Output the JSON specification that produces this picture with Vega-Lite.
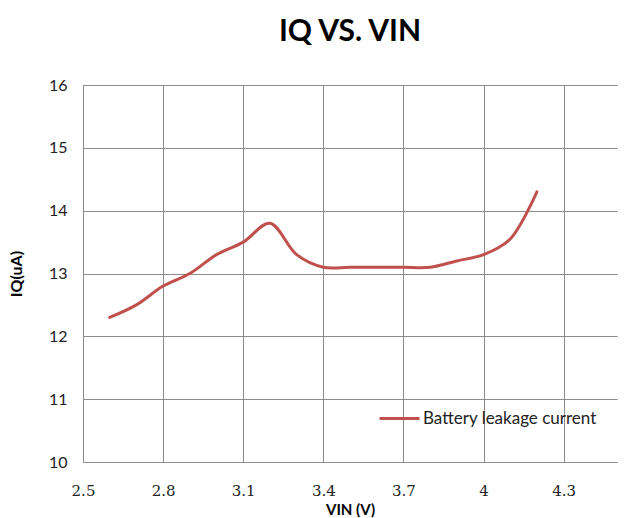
{
  "$schema": "https://vega.github.io/schema/vega-lite/v6.json",
  "autosize": "none",
  "width": 534,
  "height": 377,
  "padding": {"left": 83, "top": 85, "right": 19, "bottom": 56},
  "background": "white",
  "title": {
    "text": "IQ VS. VIN",
    "font": "Lato",
    "fontSize": 30,
    "fontWeight": "bold",
    "color": "#000000",
    "anchor": "middle",
    "offset": 30
  },
  "data": {
    "values": [
      {"vin": 2.6, "iq": 12.3, "series": "Battery leakage current"},
      {"vin": 2.7, "iq": 12.5, "series": "Battery leakage current"},
      {"vin": 2.8, "iq": 12.8, "series": "Battery leakage current"},
      {"vin": 2.9, "iq": 13.0, "series": "Battery leakage current"},
      {"vin": 3.0, "iq": 13.3, "series": "Battery leakage current"},
      {"vin": 3.1, "iq": 13.5, "series": "Battery leakage current"},
      {"vin": 3.2, "iq": 13.8, "series": "Battery leakage current"},
      {"vin": 3.3, "iq": 13.3, "series": "Battery leakage current"},
      {"vin": 3.4, "iq": 13.1, "series": "Battery leakage current"},
      {"vin": 3.5, "iq": 13.1, "series": "Battery leakage current"},
      {"vin": 3.6, "iq": 13.1, "series": "Battery leakage current"},
      {"vin": 3.7, "iq": 13.1, "series": "Battery leakage current"},
      {"vin": 3.8, "iq": 13.1, "series": "Battery leakage current"},
      {"vin": 3.9, "iq": 13.2, "series": "Battery leakage current"},
      {"vin": 4.0, "iq": 13.3, "series": "Battery leakage current"},
      {"vin": 4.1, "iq": 13.55, "series": "Battery leakage current"},
      {"vin": 4.2, "iq": 14.3, "series": "Battery leakage current"}
    ]
  },
  "mark": {"type": "line", "interpolate": "catmull-rom", "strokeWidth": 3, "strokeCap": "round"},
  "encoding": {
    "x": {
      "field": "vin",
      "type": "quantitative",
      "scale": {"domain": [2.5, 4.5], "nice": false, "zero": false},
      "axis": {
        "title": "VIN (V)",
        "titleFont": "Lato",
        "titleFontSize": 15,
        "titleFontWeight": "bold",
        "titleColor": "#000000",
        "titlePadding": 4,
        "values": [2.5, 2.8, 3.1, 3.4, 3.7, 4.0, 4.3],
        "format": "~g",
        "labelFont": "DejaVu Serif",
        "labelFontSize": 15,
        "labelColor": "#222222",
        "labelPadding": 21,
        "labelFlush": false,
        "ticks": false,
        "domainColor": "#8c8c8c",
        "grid": true,
        "gridColor": "#8c8c8c",
        "gridOpacity": 1
      }
    },
    "y": {
      "field": "iq",
      "type": "quantitative",
      "scale": {"domain": [10, 16], "nice": false, "zero": false},
      "axis": {
        "title": "IQ(uA)",
        "titleFont": "Lato",
        "titleFontSize": 16,
        "titleFontWeight": "bold",
        "titleColor": "#000000",
        "titlePadding": 24,
        "values": [10, 11, 12, 13, 14, 15, 16],
        "labelFont": "Lato",
        "labelFontSize": 16,
        "labelColor": "#222222",
        "labelPadding": 16,
        "labelFlush": false,
        "ticks": false,
        "domainColor": "#8c8c8c",
        "grid": true,
        "gridColor": "#8c8c8c",
        "gridOpacity": 1
      }
    },
    "color": {
      "field": "series",
      "type": "nominal",
      "scale": {"range": ["#C0504D"]},
      "legend": {
        "title": null,
        "orient": "none",
        "legendX": 295,
        "legendY": 312,
        "symbolType": "stroke",
        "symbolSize": 1600,
        "symbolStrokeWidth": 3,
        "labelFont": "Lato",
        "labelFontSize": 17,
        "labelColor": "#222222",
        "labelOffset": 2,
        "labelLimit": 300
      }
    }
  },
  "config": {
    "view": {"stroke": null}
  }
}
